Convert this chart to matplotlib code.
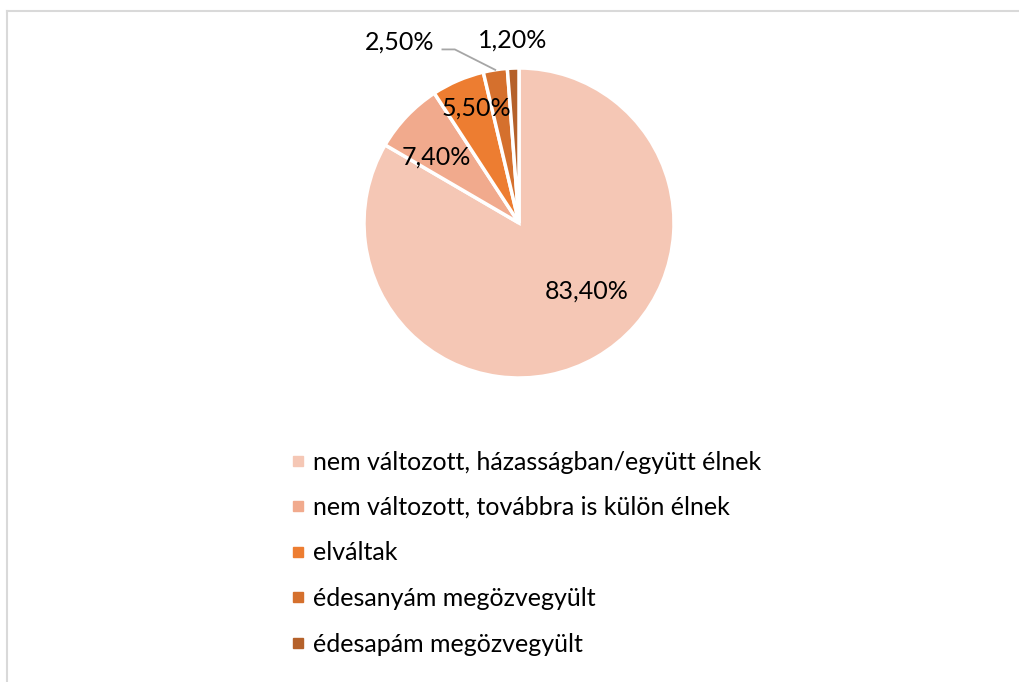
import numpy as np
import matplotlib.pyplot as plt
from matplotlib.lines import Line2D

# Daten
kategorien = ["nem változott, házasságban/együtt élnek",
              "nem változott, továbbra is külön élnek",
              "elváltak",
              "édesanyám megözvegyült",
              "édesapám megözvegyült"]
anteile = [83.4, 7.4, 5.5, 2.5, 1.2]
farben = ["#F5C7B5", "#F1AA8D", "#ED7D31", "#D5702D", "#B5612A"]

# Beschriftungsposition: Radius und Winkelverschiebung je Stück
label_r = [0.62, 0.68, 0.79, 1.40, 1.18]
label_shift = [14.6, 5.0, -3.0, 24.5, -0.3]

plt.rcParams['font.family'] = ['Lato', 'DejaVu Sans']
fs = 18

fig = plt.figure(figsize=(10.2, 6.82), dpi=100)
W, H = 1020, 682

# Rahmen (nur links und oben sichtbar)
fig.add_artist(Line2D([7/W, 7/W], [0, 1 - 10.5/H], transform=fig.transFigure, color="#D9D9D9", lw=1.5))
fig.add_artist(Line2D([7/W, 1], [1 - 10.5/H, 1 - 10.5/H], transform=fig.transFigure, color="#D9D9D9", lw=1.5))

cx, cy, r = 519, 223, 155
ax = fig.add_axes([(cx - r)/W, 1 - (cy + r)/H, 2*r/W, 2*r/H])
wedges, _ = ax.pie(anteile, colors=farben, startangle=90, counterclock=False,
                   wedgeprops=dict(edgecolor="white", linewidth=2.5))
ax.set_xlim(-1, 1)
ax.set_ylim(-1, 1)
ax.set_aspect("equal")
ax.axis("off")

for i, w in enumerate(wedges):
    mid = (w.theta1 + w.theta2) / 2
    ang = np.deg2rad(mid + label_shift[i])
    x, y = label_r[i]*np.cos(ang), label_r[i]*np.sin(ang)
    txt = ("%.2f%%" % anteile[i]).replace(".", ",")
    ax.text(x, y, txt, ha="center", va="center", fontsize=fs, clip_on=False)
    if i == 3:
        # Führungslinie
        m = np.deg2rad(mid)
        x0 = x + 0.275
        y0 = y - 0.05
        ax.plot([x0, x0 + 0.08, np.cos(m)], [y0, y0, np.sin(m)], color="#A6A6A6", lw=1.3, clip_on=False)

handles = [Line2D([], [], marker="s", linestyle="none", markersize=7, markerfacecolor=c, markeredgecolor=c)
           for c in farben]
fig.legend(handles, kategorien, loc="upper left", bbox_to_anchor=(278/W, 1 - 438/H), frameon=False,
           fontsize=fs, labelspacing=0.9, handlelength=0.6, handletextpad=0.3, borderpad=0)

plt.savefig("out.png", dpi=100)
